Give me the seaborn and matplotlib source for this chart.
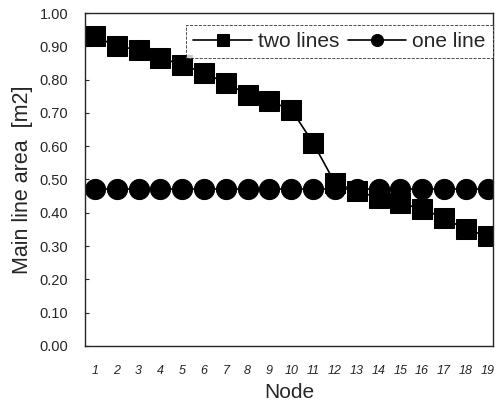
import matplotlib
matplotlib.use("Agg")
import matplotlib.pyplot as plt
import seaborn as sns
import pandas as pd
from matplotlib.ticker import FormatStrFormatter

nodes = list(range(1, 20))
two_lines = [0.93, 0.90, 0.89, 0.865, 0.845, 0.82, 0.79, 0.755, 0.735, 0.71,
             0.61, 0.49, 0.465, 0.445, 0.43, 0.41, 0.385, 0.35, 0.33]
one_line = [0.47] * 19

sns.set_style("ticks")
plt.rcParams["font.family"] = ["Liberation Sans", "DejaVu Sans"]

df = pd.DataFrame({
    "Node": nodes * 2,
    "area": two_lines + one_line,
    "series": ["two lines"] * 19 + ["one line"] * 19,
})

fig = plt.figure(figsize=(4.98, 4.07), dpi=100)
ax = fig.add_axes([0.171, 0.150, 0.819, 0.818])

sns.lineplot(data=df, x="Node", y="area", hue="series", style="series",
             markers={"two lines": "s", "one line": "o"}, dashes=False,
             palette={"two lines": "black", "one line": "black"},
             markersize=14.5, linewidth=1.2, markeredgecolor="black", ax=ax)

ax.set_xlim(0.55, 19.25)
ax.set_ylim(0, 1.0)
ax.set_xticks(nodes)
ax.set_xticklabels([str(n) for n in nodes], fontsize=9, style="italic")
ax.set_yticks([i / 10 for i in range(11)])
ax.yaxis.set_major_formatter(FormatStrFormatter("%.2f"))
ax.tick_params(axis="y", direction="in", length=3, labelsize=10.5, pad=12)
ax.tick_params(axis="x", length=0, pad=14)
ax.set_xlabel("Node", fontsize=15, labelpad=4)
ax.set_ylabel("Main line area  [m2]", fontsize=15.5, labelpad=5)
for s in ax.spines.values():
    s.set_linewidth(1.0)

leg = ax.legend(loc="upper right", bbox_to_anchor=(1.0, 0.965), ncol=2,
                fontsize=15, frameon=True, fancybox=False, edgecolor="black",
                handlelength=2.8, columnspacing=0.4, handletextpad=0.3,
                markerscale=0.6, borderaxespad=0.0, borderpad=0.35)
leg.get_frame().set_linestyle("--")
leg.get_frame().set_linewidth(0.6)

fig.savefig("out.png", dpi=100)
